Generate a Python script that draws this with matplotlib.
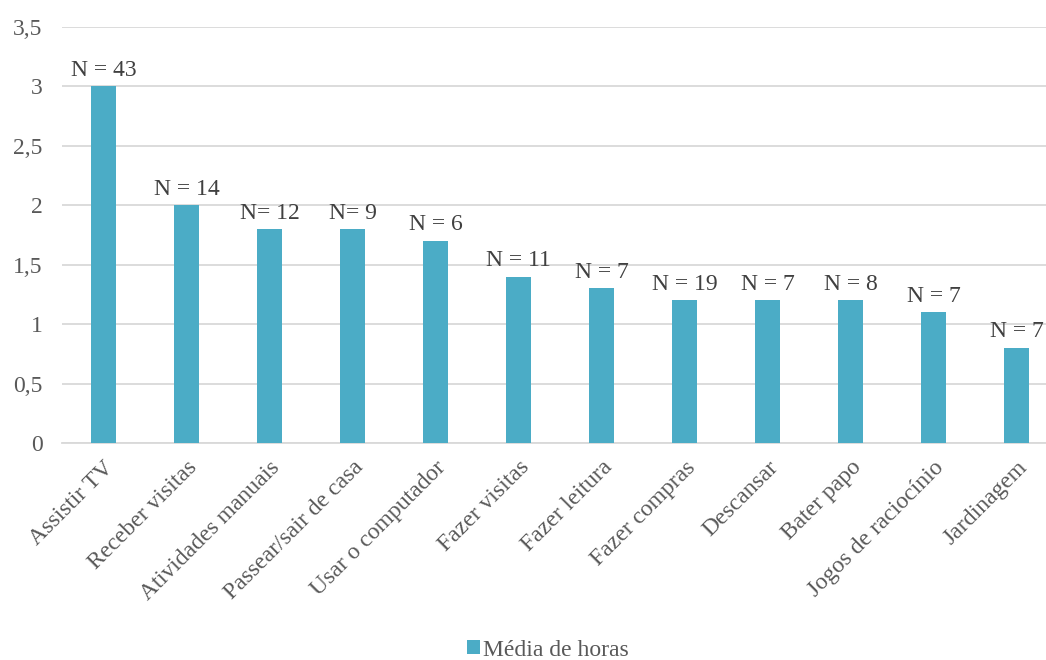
import matplotlib.pyplot as plt
from matplotlib.ticker import FuncFormatter

plt.rcParams["font.family"] = ["Liberation Serif", "DejaVu Serif"]

atividades = [
    "Assistir TV", "Receber visitas", "Atividades manuais", "Passear/sair de casa",
    "Usar o computador", "Fazer visitas", "Fazer leitura", "Fazer compras",
    "Descansar", "Bater papo", "Jogos de raciocínio", "Jardinagem",
]
media_horas = [3, 2, 1.8, 1.8, 1.7, 1.4, 1.3, 1.2, 1.2, 1.2, 1.1, 0.8]
rotulos = ["N = 43", "N = 14", "N= 12", "N= 9", "N = 6", "N = 11",
           "N = 7", "N = 19", "N = 7", "N = 8", "N = 7", "N = 7"]

cor_barra = "#4BACC6"
cor_texto = "#595959"

fig = plt.figure(figsize=(10.46, 6.6), dpi=100)
ax = fig.add_axes([62 / 1046, 1 - 443 / 660, 996 / 1046, 416 / 660])

x = range(len(atividades))
barras = ax.bar(x, media_horas, width=0.31, color=cor_barra, zorder=3,
                label="Média de horas")

for xi, v, r in zip(x, media_horas, rotulos):
    ax.annotate(r, (xi, v), xytext=(0, 4), textcoords="offset points",
                ha="center", va="bottom", fontsize=17, color="#404040")

ax.set_xlim(-0.5, len(atividades) - 0.5)
ax.set_ylim(0, 3.5)
ax.set_yticks([0, 0.5, 1, 1.5, 2, 2.5, 3, 3.5])
ax.yaxis.set_major_formatter(FuncFormatter(lambda v, p: f"{v:g}".replace(".", ",")))
ax.grid(axis="y", color="#D9D9D9", linewidth=1.3, zorder=0)
ax.set_axisbelow(True)

ax.set_xticks(list(x))
ax.set_xticklabels(atividades, rotation=45, ha="right", rotation_mode="anchor")
ax.tick_params(axis="both", length=0, labelsize=17, colors=cor_texto)
ax.tick_params(axis="x", pad=10)
ax.tick_params(axis="y", pad=14)

for lado in ["top", "right", "left"]:
    ax.spines[lado].set_visible(False)
ax.spines["bottom"].set_color("#D9D9D9")
ax.spines["bottom"].set_linewidth(1.3)

fig.legend(handles=[barras], loc="center", bbox_to_anchor=(0.524, 0.015),
           frameon=False, fontsize=17, handlelength=0.55, handleheight=0.55,
           handletextpad=0.15, labelcolor=cor_texto)

fig.savefig("out.png", dpi=100)
